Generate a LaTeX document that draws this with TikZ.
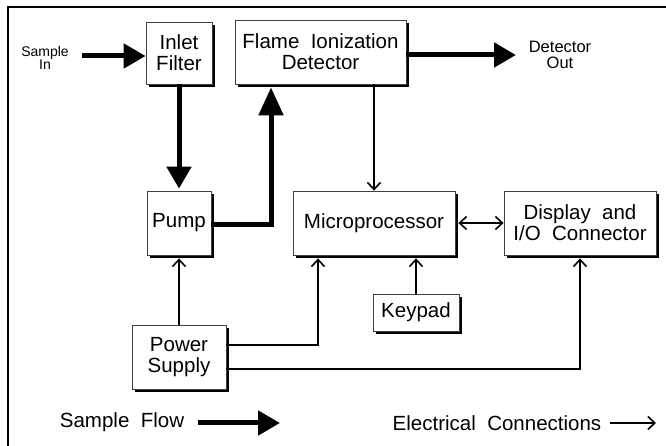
\documentclass[tikz,border=0pt]{standalone}
\usepackage{fontspec}
\setmainfont{Liberation Sans}
\usetikzlibrary{arrows.meta,positioning,shadows}

\begin{document}
\begin{tikzpicture}[x=1pt,y=1pt,
    box/.style={draw=black!75,line width=0.8pt,fill=white,align=center,inner sep=0pt,
      font=\fontsize{20.5}{21}\selectfont,
      drop shadow={shadow xshift=3pt,shadow yshift=-3pt,fill=black,opacity=1}},
    flow/.style={line width=5pt,-{Triangle[length=22pt,width=24pt]}},
    wire/.style={line width=1.6pt,-{Straight Barb[length=7pt,width=13pt]}},
    smalltext/.style={align=center,inner sep=0pt},
    legend/.style={font=\fontsize{20.5}{21}\selectfont,inner sep=0pt}]
  \useasboundingbox (0,0) rectangle (666,446);
  \begin{scope}
    \clip (0,0) rectangle (666,446);
    \draw[line width=2pt] (8,-10) rectangle (690,439);
  \end{scope}
  \node[box,minimum width=66pt,minimum height=62pt] (inlet) at (179,393) {Inlet\\Filter};
  \node[box,minimum width=171pt,minimum height=64pt] (fid) at (320.5,394) {Flame\ \ Ionization\\Detector};
  \node[box,minimum width=64pt,minimum height=64pt] (pump) at (179,223) {Pump};
  \node[box,minimum width=162pt,minimum height=64pt] (micro) at (374,223) {Microprocessor};
  \node[box,minimum width=152pt,minimum height=64pt] (display) at (580,223) {Display\ \ and\\I/O\ \ Connector};
  \node[box,minimum width=86pt,minimum height=37pt] (keypad) at (416,133.5) {Keypad};
  \node[box,minimum width=94pt,minimum height=64pt] (power) at (179,89) {Power\\Supply};
  \node[smalltext,font=\fontsize{14}{13.5}\selectfont] (samplein) at (45,388) {Sample\\In};
  \node[smalltext,font=\fontsize{16.5}{16.5}\selectfont] (detout) at (560,391) {Detector\\Out};
  \coordinate (sinstart) at (82,390);
  \coordinate (doutend) at (516,391);
  \coordinate (riser) at (271,221);
  \coordinate (pmturn) at (318,101);
  \coordinate (pdturn) at (580,77);
  \draw[flow] (sinstart) -- (sinstart -| inlet.west);
  \draw[flow,shorten >=2pt] (inlet.south) -- (pump.north);
  \draw[flow,-{Triangle[length=28pt,width=24pt]},shorten >=3pt]
    (pump.east |- riser) -- (riser) -- (riser |- fid.south);
  \draw[flow] (fid.east |- doutend) -- (doutend);
  \draw[wire] (micro.north |- fid.south) -- (micro.north);
  \draw[wire,{Straight Barb[length=7pt,width=13pt]}-{Straight Barb[length=7pt,width=13pt]},shorten <=3pt]
    (micro.east) -- (display.west);
  \draw[wire,shorten >=3pt] (keypad.north) -- (keypad.north |- micro.south);
  \draw[wire,shorten >=3pt] (power.north) -- (pump.south);
  \draw[wire,shorten >=3pt] (power.east |- pmturn) -- (pmturn) -- (pmturn |- micro.south);
  \draw[wire,shorten >=3pt] (power.east |- pdturn) -| (display.south);
  \node[legend,anchor=base] (sflow) at (122,18) {Sample\ \ Flow};
  \node[legend,anchor=base] (econn) at (497,15) {Electrical\ \ Connections};
  \coordinate (sflowstart) at (198,23);
  \coordinate (sflowend) at (280,23);
  \coordinate (econnstart) at (610,23);
  \coordinate (econnend) at (656,23);
  \draw[flow] (sflowstart) -- (sflowend);
  \draw[wire] (econnstart) -- (econnend);
\end{tikzpicture}
\end{document}
